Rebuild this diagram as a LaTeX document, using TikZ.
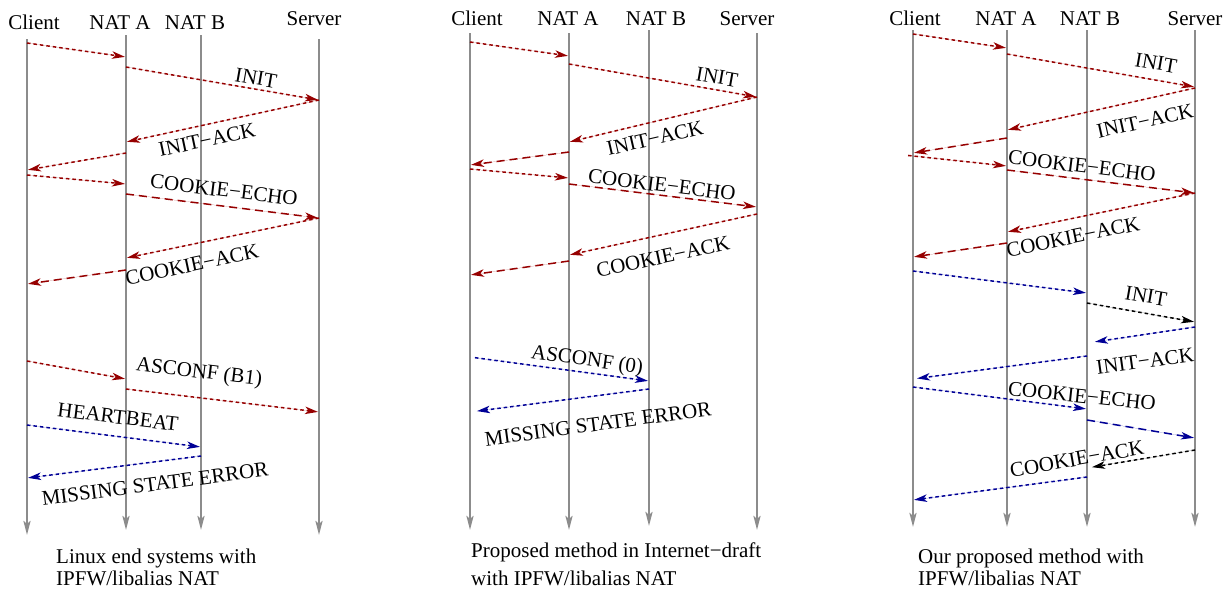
\documentclass[tikz,border=0pt]{standalone}
\usepackage{fontspec}
\setmainfont{Liberation Serif}
\usepackage{tikz}
\usetikzlibrary{arrows.meta}
\definecolor{lgray}{RGB}{140,140,140}
\definecolor{xred}{RGB}{150,0,0}
\definecolor{xblue}{RGB}{0,0,150}
\tikzset{
	life/.style={draw=lgray, line width=2.5pt, -{Stealth[length=14pt,width=7pt,inset=3pt]}},
	msg/.style={line width=1.5pt, -{Stealth[length=13pt,width=7.5pt,inset=3.5pt]}, shorten >=1pt},
	dots/.style={msg, dash pattern=on 3.5pt off 3pt},
	dashes/.style={msg, dash pattern=on 8pt off 5pt},
	rmsg/.style={draw=xred, fill=xred},
	bmsg/.style={draw=xblue, fill=xblue},
	kmsg/.style={draw=black, fill=black},
	txt/.style={font=\fontsize{21}{22}\selectfont, inner sep=0pt},
	head/.style={txt, anchor=base}
}
\begin{document}
\begin{tikzpicture}[x=1pt,y=-1pt]
				\useasboundingbox (0,0) rectangle (1228,590);
				\coordinate (cl1) at (27,39);
				\coordinate (na1) at (126,35);
				\coordinate (nb1) at (201,35);
				\coordinate (sv1) at (319,39);
				\coordinate (cl2) at (470,33);
				\coordinate (na2) at (569,33);
				\coordinate (nb2) at (649,30);
				\coordinate (sv2) at (757,33);
				\coordinate (cl3) at (913,30);
				\coordinate (na3) at (1007,30);
				\coordinate (nb3) at (1087,30);
				\coordinate (sv3) at (1195,30);
				\node[head] (hcl1) at (34,29) {Client};
				\node[head] (hna1) at (120,29) {NAT A};
				\node[head] (hnb1) at (195,29) {NAT B};
				\node[head] (hsv1) at (314,25) {Server};
				\node[head] (hcl2) at (477,25) {Client};
				\node[head] (hna2) at (568,25) {NAT A};
				\node[head] (hnb2) at (656,25) {NAT B};
				\node[head] (hsv2) at (747,25) {Server};
				\node[head] (hcl3) at (915,25) {Client};
				\node[head] (hna3) at (1006,25) {NAT A};
				\node[head] (hnb3) at (1090,25) {NAT B};
				\node[head] (hsv3) at (1195,25) {Server};
				\draw[life] (cl1) -- (cl1 |- 0,535);
				\draw[life] (na1) -- (na1 |- 0,530);
				\draw[life] (nb1) -- (nb1 |- 0,530);
				\draw[life] (sv1) -- (sv1 |- 0,535);
				\draw[life] (cl2) -- (cl2 |- 0,530);
				\draw[life] (na2) -- (na2 |- 0,530);
				\draw[life] (nb2) -- (nb2 |- 0,526);
				\draw[life] (sv2) -- (sv2 |- 0,530);
				\draw[life] (cl3) -- (cl3 |- 0,527);
				\draw[life] (na3) -- (na3 |- 0,527);
				\draw[life] (nb3) -- (nb3 |- 0,527);
				\draw[life] (sv3) -- (sv3 |- 0,527);
				\draw[dots,rmsg] (cl1 |- 0,43) -- (na1 |- 0,57);
				\draw[dots,rmsg] (na1 |- 0,67) -- (sv1 |- 0,100);
				\draw[dots,rmsg] (sv1 |- 0,100) -- (na1 |- 0,142);
				\draw[dots,rmsg] (na1 |- 0,153) -- (cl1 |- 0,170);
				\draw[dots,rmsg] (cl1 |- 0,175) -- (na1 |- 0,184);
				\draw[dashes,rmsg] (na1 |- 0,194) -- (sv1 |- 0,218);
				\draw[dots,rmsg] (sv1 |- 0,218) -- (na1 |- 0,258);
				\draw[dashes,rmsg] (na1 |- 0,270) -- (cl1 |- 0,284);
				\draw[dots,rmsg] (cl1 |- 0,361) -- (na1 |- 0,379);
				\draw[dots,rmsg] (na1 |- 0,389) -- (sv1 |- 0,412);
				\draw[dots,bmsg] (cl1 |- 0,425) -- (nb1 |- 0,447);
				\draw[dots,bmsg] (nb1 |- 0,456) -- (cl1 |- 0,478);
				\node[txt,rotate=-10] (l1a) at (256,78) {INIT};
				\node[txt,rotate=12] (l1b) at (207,140) {INIT−ACK};
				\node[txt,rotate=-7] (l1c) at (224,190) {COOKIE−ECHO};
				\node[txt,rotate=12] (l1d) at (192,265) {COOKIE−ACK};
				\node[txt,rotate=-7] (l1e) at (199,373) {ASCONF (B1)};
				\node[txt,rotate=-7] (l1f) at (118,417) {HEARTBEAT};
				\node[txt,rotate=7.5] (l1g) at (155,484) {MISSING STATE ERROR};
				\draw[dots,rmsg] (cl2 |- 0,42) -- (na2 |- 0,56);
				\draw[dots,rmsg] (na2 |- 0,64) -- (sv2 |- 0,97);
				\draw[dots,rmsg] (sv2 |- 0,97) -- (na2 |- 0,142);
				\draw[dashes,rmsg] (na2 |- 0,152) -- (cl2 |- 0,165);
				\draw[dots,rmsg] (cl2 |- 0,169) -- (na2 |- 0,178);
				\draw[dashes,rmsg] (na2 |- 0,184) -- (sv2 |- 0,207);
				\draw[dots,rmsg] (sv2 |- 0,214) -- (na2 |- 0,255);
				\draw[dashes,rmsg] (na2 |- 0,261) -- (cl2 |- 0,275);
				\draw[dots,bmsg,shorten <=5pt] (cl2 |- 0,357) -- (nb2 |- 0,381);
				\draw[dots,bmsg,shorten >=7pt] (nb2 |- 0,389) -- (cl2 |- 0,412);
				\node[txt,rotate=-10] (l2a) at (717,77) {INIT};
				\node[txt,rotate=13] (l2b) at (655,138) {INIT−ACK};
				\node[txt,rotate=-7] (l2c) at (662,185) {COOKIE−ECHO};
				\node[txt,rotate=12] (l2d) at (663,257) {COOKIE−ACK};
				\node[txt,rotate=-8] (l2e) at (587,361) {ASCONF (0)};
				\node[txt,rotate=7.7] (l2f) at (598,424) {MISSING STATE ERROR};
				\draw[dots,rmsg] (cl3 |- 0,34) -- (na3 |- 0,48);
				\draw[dots,rmsg] (na3 |- 0,54) -- (sv3 |- 0,87);
				\draw[dots,rmsg] (sv3 |- 0,88) -- (na3 |- 0,130);
				\draw[dashes,rmsg] (na3 |- 0,138) -- (cl3 |- 0,153);
				\draw[dots,rmsg,shorten <=-5pt] (cl3 |- 0,156) -- (na3 |- 0,166);
				\draw[dashes,rmsg] (na3 |- 0,170) -- (sv3 |- 0,193);
				\draw[dots,rmsg] (sv3 |- 0,193) -- (na3 |- 0,232);
				\draw[dashes,rmsg] (na3 |- 0,243) -- (cl3 |- 0,257);
				\draw[dots,bmsg] (cl3 |- 0,271) -- (nb3 |- 0,293);
				\draw[dots,kmsg] (nb3 |- 0,303) -- (sv3 |- 0,322);
				\draw[dots,bmsg,shorten >=8pt] (sv3 |- 0,327) -- (nb3 |- 0,343);
				\draw[dots,bmsg,shorten >=4pt] (nb3 |- 0,356) -- (cl3 |- 0,379);
				\draw[dots,bmsg] (cl3 |- 0,387) -- (nb3 |- 0,409);
				\draw[dashes,bmsg] (nb3 |- 0,420) -- (sv3 |- 0,438);
				\draw[dots,kmsg,shorten >=5pt] (sv3 |- 0,450) -- (nb3 |- 0,468);
				\draw[dots,bmsg] (nb3 |- 0,477) -- (cl3 |- 0,500);
				\node[txt,rotate=-10] (l3a) at (1156,63) {INIT};
				\node[txt,rotate=12.6] (l3b) at (1145,121) {INIT−ACK};
				\node[txt,rotate=-7] (l3c) at (1082,166) {COOKIE−ECHO};
				\node[txt,rotate=11.7] (l3d) at (1073,237) {COOKIE−ACK};
				\node[txt,rotate=-10] (l3e) at (1146,296) {INIT};
				\node[txt,rotate=8] (l3f) at (1145,361) {INIT−ACK};
				\node[txt,rotate=-6] (l3g) at (1082,396) {COOKIE−ECHO};
				\node[txt,rotate=10] (l3h) at (1077,459) {COOKIE−ACK};
				\node[txt,anchor=base west] (cap1a) at (56,563) {Linux end systems with};
				\node[txt,anchor=base west] (cap1b) at (56,585) {IPFW/libalias NAT};
				\node[txt,anchor=base west] (cap2a) at (471,557) {Proposed method in Internet−draft};
				\node[txt,anchor=base west] (cap2b) at (471,585) {with IPFW/libalias NAT};
				\node[txt,anchor=base west] (cap3a) at (918,563) {Our proposed method with};
				\node[txt,anchor=base west] (cap3b) at (918,585) {IPFW/libalias NAT};
			\end{tikzpicture}
\end{document}
